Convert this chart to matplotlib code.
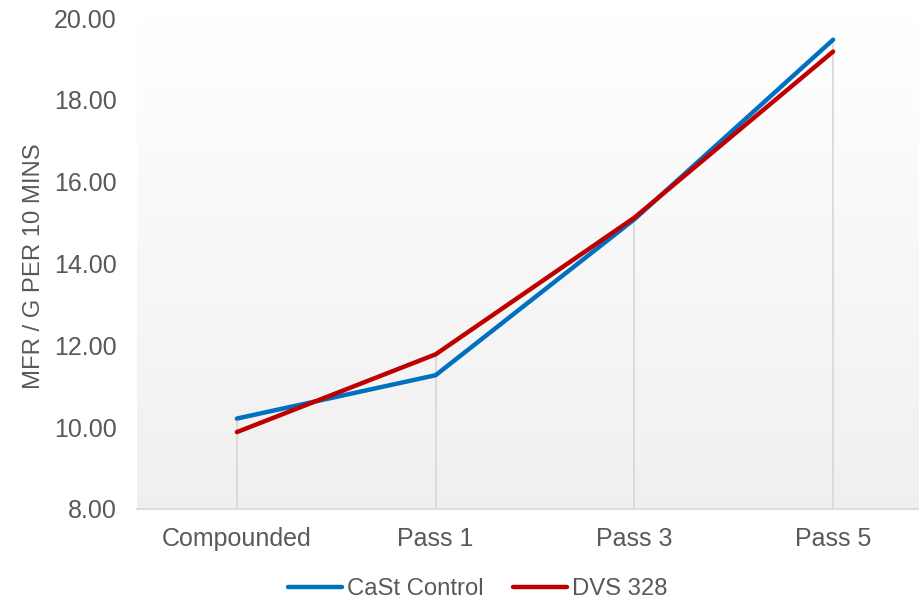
import matplotlib
matplotlib.use("Agg")
import matplotlib.pyplot as plt
import numpy as np

plt.rcParams['font.family'] = ['Liberation Sans', 'DejaVu Sans']

categories = ["Compounded", "Pass 1", "Pass 3", "Pass 5"]
cast_control = [10.21, 11.27, 15.08, 19.47]
dvs_328 = [9.88, 11.78, 15.12, 19.18]
yticks = [8, 10, 12, 14, 16, 18, 20]

fig = plt.figure(figsize=(9.2, 6.04), dpi=100)
ax = fig.add_axes([137.5/920, 95/604, 795/920, 491/604])

x = np.arange(len(categories))
ax.set_xlim(-0.5, len(categories) - 0.5)
ax.set_ylim(8, 20)

# gradient background (light grey at bottom to white at top)
grad = np.linspace(0.94, 1.0, 256).reshape(-1, 1)
ax.imshow(np.dstack([grad, grad, grad]), extent=[-0.5, len(categories) - 0.5, 8, 20],
          aspect='auto', zorder=0, origin='lower')

# drop lines
for xi, a, b in zip(x, cast_control, dvs_328):
    ax.vlines(xi, 8, max(a, b), color='#d9d9d9', lw=1.3, zorder=1)

ax.plot(x, cast_control, color='#0070C0', lw=3.2, label='CaSt Control',
        solid_capstyle='round', zorder=3)
ax.plot(x, dvs_328, color='#C00000', lw=3.2, label='DVS 328',
        solid_capstyle='round', zorder=4)

ax.set_xticks(x)
ax.set_xticklabels(categories)
ax.set_yticks(yticks)
ax.set_yticklabels([f"{v:.2f}" for v in yticks])
ax.tick_params(axis='both', length=0, labelsize=18, colors='#595959')
ax.tick_params(axis='x', pad=13)
ax.tick_params(axis='y', pad=14.8)

for s in ['top', 'right', 'left']:
    ax.spines[s].set_visible(False)
ax.spines['bottom'].set_color('#d9d9d9')
ax.spines['bottom'].set_linewidth(1.3)

ax.set_ylabel("MFR / G PER 10 MINS", fontsize=17.2, color='#595959')
ax.yaxis.set_label_coords(-92.5/795, 0.495)

leg = fig.legend(loc='center', bbox_to_anchor=(477.5/920, 1 - 589/604), ncol=2,
                 frameon=False, fontsize=17.2, handlelength=2.26, columnspacing=1.25,
                 handletextpad=0.2)
for t in leg.get_texts():
    t.set_color('#595959')

fig.savefig("out.png", dpi=100)
